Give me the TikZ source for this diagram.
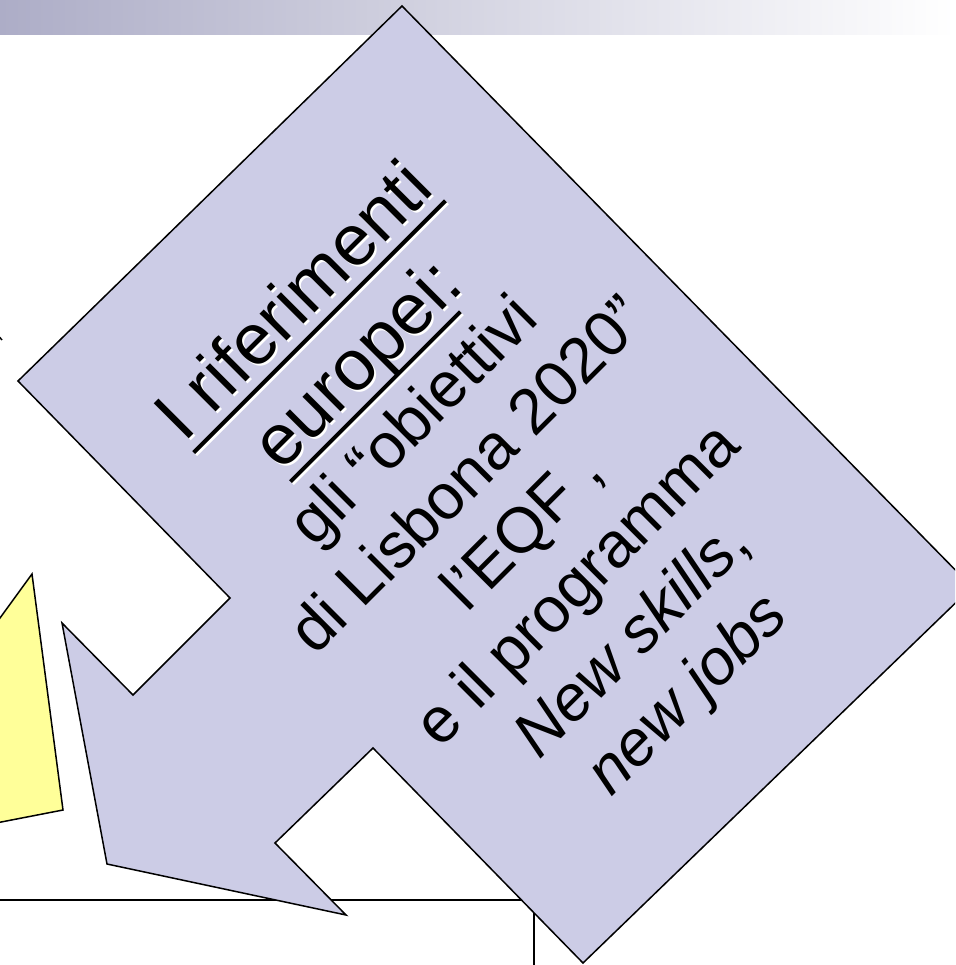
\documentclass[tikz,border=0pt]{standalone}
\usepackage{fontspec}
\setmainfont{Liberation Sans}
\definecolor{lavender}{RGB}{204,204,230}
\definecolor{paleyellow}{RGB}{255,255,153}
\definecolor{barblue}{RGB}{173,173,199}
\newsavebox\ulbox
\newcommand\undl[1]{\sbox\ulbox{#1}\rlap{\rule[-15pt]{\wd\ulbox}{4pt}}\usebox\ulbox}
\begin{document}
\begin{tikzpicture}[x=1pt, y=-1pt,
  shape line/.style={draw=black, line width=1.5pt, line join=miter},
  big line/.style={font=\fontsize{72}{86}\selectfont, anchor=base, rotate=45},
  small line/.style={font=\fontsize{64}{77}\selectfont, anchor=base, rotate=45}]
\useasboundingbox (0,0) rectangle (955,965);
\clip (0,0) rectangle (955,965);
\shade[left color=barblue, right color=white] (0,0) rectangle (955,35);
\draw[line width=1.5pt] (-4,333) -- (2,340);
\draw[shape line] (-5,900) -- (534,900) -- (534,970);
\filldraw[shape line, fill=paleyellow] (32,574) -- (63,810) -- (-40,830) -- (-40,673) -- cycle;
\filldraw[shape line, fill=lavender] (402,6) -- (972,587) -- (583,963) -- (373,748)
  -- (275,843) -- (346,915) -- (107,864) -- (62,623) -- (133,695) -- (230,598)
  -- (18,381) -- cycle;
% testo ruotato, una riga per nodo
\begin{scope}[shift={(310.4,317.5)}, rotate=45]
\node[big line, white] (shadow1) at (0,2.8) {\undl{I riferimenti}};
\node[big line] (line1) at (0,0) {\undl{I riferimenti}};
\node[big line, white] (shadow2) at (0,91.8) {\undl{europei}:};
\node[big line] (line2) at (0,89) {\undl{europei}:};
\node[small line] (line3) at (0,166.2) {gli “obiettivi};
\node[small line] (line4) at (0,243.4) {di Lisbona 2020”};
\node[small line] (line5) at (0,320.6) {l’EQF ,};
\node[small line] (line6) at (0,397.8) {e il programma};
\node[small line] (line7) at (0,475) {\textit{New skills},};
\node[small line] (line8) at (0,552.2) {\textit{new jobs}};
\end{scope}
\end{tikzpicture}
\end{document}
